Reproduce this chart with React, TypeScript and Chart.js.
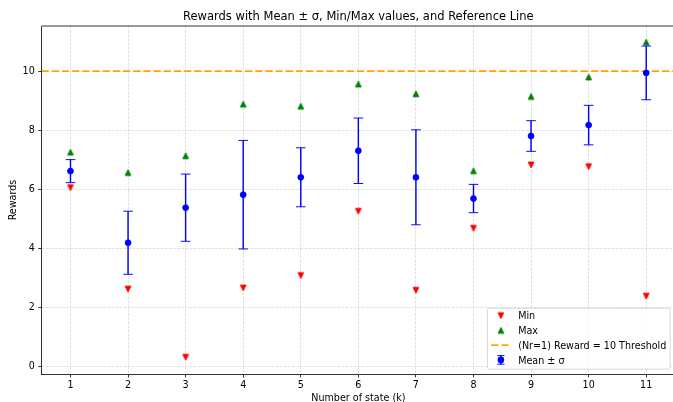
import React, { useEffect, useRef } from 'react';
import { Chart, registerables } from 'chart.js';

Chart.register(...registerables);

// ---------- data ----------
const states = [1, 2, 3, 4, 5, 6, 7, 8, 9, 10, 11];
const meanRewards = [6.61, 4.18, 5.37, 5.81, 6.4, 7.3, 6.4, 5.68, 7.8, 8.17, 9.94];
const sigmaRewards = [0.39, 1.07, 1.14, 1.84, 1.0, 1.11, 1.61, 0.48, 0.52, 0.67, 0.91];
const minRewards = [6.05, 2.61, 0.3, 2.65, 3.07, 5.25, 2.57, 4.67, 6.82, 6.76, 2.37];
const maxRewards = [7.25, 6.56, 7.13, 8.88, 8.81, 9.56, 9.23, 6.62, 9.14, 9.8, 10.98];
const thresholdValue = 10;
const xTicks = [1, 2, 3, 4, 5, 6, 7, 8, 9, 10, 11];
const yTicks = [0, 2, 4, 6, 8, 10];
const xBounds = [0.5, 11.5];
const yBounds = [-0.27, 11.53];
const titleText = 'Rewards with Mean ± σ, Min/Max values, and Reference Line';
const xLabel = 'Number of state (k)';
const yLabel = 'Rewards';
const legendLabels = ['Min', 'Max', '(Nr=1) Reward = 10 Threshold', 'Mean ± σ'];

const FONT = "'DejaVu Sans', sans-serif";
const FS = 9.6;

function makeTriangle(color: string, up: boolean): HTMLCanvasElement {
  const c = document.createElement('canvas');
  c.width = 10;
  c.height = 10;
  const ctx = c.getContext('2d')!;
  const h = 2.88;
  ctx.beginPath();
  if (up) {
    ctx.moveTo(5, 5 - h);
    ctx.lineTo(5 + h, 5 + h);
    ctx.lineTo(5 - h, 5 + h);
  } else {
    ctx.moveTo(5, 5 + h);
    ctx.lineTo(5 + h, 5 - h);
    ctx.lineTo(5 - h, 5 - h);
  }
  ctx.closePath();
  ctx.fillStyle = color;
  ctx.fill();
  ctx.strokeStyle = color;
  ctx.lineWidth = 0.96;
  ctx.stroke();
  return c;
}

export default function App() {
  const ref = useRef<HTMLCanvasElement>(null);

  useEffect(() => {
    const canvas = ref.current;
    if (!canvas) return;
    const downTri = makeTriangle('#ff0000', false);
    const upTri = makeTriangle('#008000', true);

    const errorBars = {
      id: 'errorBars',
      beforeDatasetDraw(chart: any, args: any) {
        if (args.index !== 0) return;
        const { ctx, scales } = chart;
        const x = scales.x;
        const y = scales.y;
        ctx.save();
        ctx.strokeStyle = '#0000ff';
        states.forEach((s, i) => {
          const px = x.getPixelForValue(s);
          const top = y.getPixelForValue(meanRewards[i] + sigmaRewards[i]);
          const bot = y.getPixelForValue(meanRewards[i] - sigmaRewards[i]);
          ctx.lineWidth = 1.44;
          ctx.beginPath();
          ctx.moveTo(px, top);
          ctx.lineTo(px, bot);
          ctx.stroke();
          ctx.lineWidth = 0.96;
          ctx.beginPath();
          ctx.moveTo(px - 4.8, top);
          ctx.lineTo(px + 4.8, top);
          ctx.moveTo(px - 4.8, bot);
          ctx.lineTo(px + 4.8, bot);
          ctx.stroke();
        });
        ctx.restore();
      },
    };

    const decorations = {
      id: 'decorations',
      afterDraw(chart: any) {
        const { ctx, chartArea } = chart;
        const { left, right, top, bottom } = chartArea;
        ctx.save();
        // top / right spines
        ctx.strokeStyle = '#000';
        ctx.lineWidth = 0.8;
        ctx.beginPath();
        ctx.moveTo(left, top);
        ctx.lineTo(right, top);
        ctx.lineTo(right, bottom);
        ctx.stroke();

        // title
        ctx.fillStyle = '#000';
        ctx.font = `11.5px ${FONT}`;
        ctx.textAlign = 'center';
        ctx.textBaseline = 'alphabetic';
        ctx.fillText(titleText, (left + right) / 2, 20);

        // legend
        ctx.font = `${FS}px ${FONT}`;
        const maxW = Math.max(...legendLabels.map((l) => ctx.measureText(l).width));
        const pad = 0.4 * FS;
        const handleLen = 2 * FS;
        const textPad = 0.8 * FS;
        const boxW = pad * 2 + handleLen + textPad + maxW;
        const boxH = 61;
        const bx = right - 0.5 * FS - boxW;
        const by = bottom - 0.5 * FS - boxH;
        const r = 2;
        ctx.beginPath();
        ctx.moveTo(bx + r, by);
        ctx.lineTo(bx + boxW - r, by);
        ctx.arcTo(bx + boxW, by, bx + boxW, by + r, r);
        ctx.lineTo(bx + boxW, by + boxH - r);
        ctx.arcTo(bx + boxW, by + boxH, bx + boxW - r, by + boxH, r);
        ctx.lineTo(bx + r, by + boxH);
        ctx.arcTo(bx, by + boxH, bx, by + boxH - r, r);
        ctx.lineTo(bx, by + r);
        ctx.arcTo(bx, by, bx + r, by, r);
        ctx.closePath();
        ctx.fillStyle = 'rgba(255,255,255,0.8)';
        ctx.fill();
        ctx.strokeStyle = 'rgba(204,204,204,0.8)';
        ctx.lineWidth = 0.96;
        ctx.stroke();

        const hx = bx + pad + handleLen / 2;
        const tx = bx + pad + handleLen + textPad;
        const rows = [7.4, 22.2, 36.9, 51.7].map((o) => by + o);
        // Min
        ctx.drawImage(downTri, hx - 5, rows[0] - 5);
        // Max
        ctx.drawImage(upTri, hx - 5, rows[1] - 5);
        // threshold
        ctx.save();
        ctx.strokeStyle = '#ffa500';
        ctx.lineWidth = 1.92;
        ctx.setLineDash([7.1, 3.07]);
        ctx.beginPath();
        ctx.moveTo(bx + pad, rows[2]);
        ctx.lineTo(bx + pad + handleLen, rows[2]);
        ctx.stroke();
        ctx.restore();
        // errorbar
        ctx.strokeStyle = '#0000ff';
        ctx.lineWidth = 1.44;
        ctx.beginPath();
        ctx.moveTo(hx, rows[3] - 4.3);
        ctx.lineTo(hx, rows[3] + 4.3);
        ctx.stroke();
        ctx.lineWidth = 0.96;
        ctx.beginPath();
        ctx.moveTo(hx - 3.6, rows[3] - 4.3);
        ctx.lineTo(hx + 3.6, rows[3] - 4.3);
        ctx.moveTo(hx - 3.6, rows[3] + 4.3);
        ctx.lineTo(hx + 3.6, rows[3] + 4.3);
        ctx.stroke();
        ctx.fillStyle = '#0000ff';
        ctx.beginPath();
        ctx.arc(hx, rows[3], 3.3, 0, Math.PI * 2);
        ctx.fill();

        ctx.fillStyle = '#000';
        ctx.textAlign = 'left';
        ctx.textBaseline = 'alphabetic';
        legendLabels.forEach((l, i) => ctx.fillText(l, tx, rows[i] + 3.6));
        ctx.restore();
      },
    };

    const chart = new Chart(canvas, {
      type: 'scatter',
      data: {
        datasets: [
          {
            label: 'Mean ± σ',
            data: states.map((s, i) => ({ x: s, y: meanRewards[i] })),
            pointStyle: 'circle',
            pointRadius: 2.9,
            pointBorderWidth: 0.96,
            backgroundColor: '#0000ff',
            borderColor: '#0000ff',
            showLine: false,
          },
          {
            type: 'line',
            label: '(Nr=1) Reward = 10 Threshold',
            data: [
              { x: xBounds[0], y: thresholdValue },
              { x: xBounds[1], y: thresholdValue },
            ],
            borderColor: '#ffa500',
            borderWidth: 1.92,
            borderDash: [7.1, 3.07],
            pointRadius: 0,
            fill: false,
          },
          {
            label: 'Max',
            data: states.map((s, i) => ({ x: s, y: maxRewards[i] })),
            pointStyle: upTri,
            pointRadius: 4,
            showLine: false,
          },
          {
            label: 'Min',
            data: states.map((s, i) => ({ x: s, y: minRewards[i] })),
            pointStyle: downTri,
            pointRadius: 4,
            showLine: false,
          },
        ],
      },
      options: {
        animation: false,
        responsive: false,
        devicePixelRatio: 1,
        layout: { padding: { top: 26, right: 4.5, left: 0, bottom: 0 } },
        plugins: {
          legend: { display: false },
          tooltip: { enabled: false },
          title: { display: false },
        },
        scales: {
          x: {
            type: 'linear',
            min: xBounds[0],
            max: xBounds[1],
            afterBuildTicks: (axis: any) => {
              axis.ticks = xTicks.map((v) => ({ value: v }));
            },
            afterFit: (axis: any) => {
              axis.height = 28;
            },
            ticks: {
              font: { family: FONT, size: FS },
              color: '#000',
              padding: 2.5,
              maxRotation: 0,
              autoSkip: false,
              callback: (v: any) => String(v),
            },
            grid: {
              color: 'rgba(176,176,176,0.5)',
              lineWidth: 0.77,
              tickLength: 3.4,
              tickColor: '#000',
              tickWidth: 0.8,
              tickBorderDash: [],
            },
            border: { display: true, color: '#000', width: 0.8, dash: [2.8, 1.3] },
            title: {
              display: true,
              text: xLabel,
              font: { family: FONT, size: FS },
              color: '#000',
              padding: { top: 0, bottom: -2.5 },
            },
          },
          y: {
            type: 'linear',
            min: yBounds[0],
            max: yBounds[1],
            afterBuildTicks: (axis: any) => {
              axis.ticks = yTicks.map((v) => ({ value: v }));
            },
            afterFit: (axis: any) => {
              axis.width = 41.7;
            },
            ticks: {
              font: { family: FONT, size: FS },
              color: '#000',
              padding: 3.5,
              autoSkip: false,
              callback: (v: any) => String(v),
            },
            grid: {
              color: 'rgba(176,176,176,0.5)',
              lineWidth: 0.77,
              tickLength: 3.4,
              tickColor: '#000',
              tickWidth: 0.8,
              tickBorderDash: [],
            },
            border: { display: true, color: '#000', width: 0.8, dash: [2.8, 1.3] },
            title: {
              display: true,
              text: yLabel,
              font: { family: FONT, size: FS },
              color: '#000',
              padding: { top: 7.5, bottom: 0 },
            },
          },
        },
      },
      plugins: [errorBars, decorations],
    } as any);

    return () => chart.destroy();
  }, []);

  return (
    <div style={{ position: 'fixed', left: 0, top: 0, width: 680, height: 402, background: '#fff' }}>
      <canvas ref={ref} width={680} height={402} style={{ display: 'block', width: 680, height: 402 }} />
    </div>
  );
}
